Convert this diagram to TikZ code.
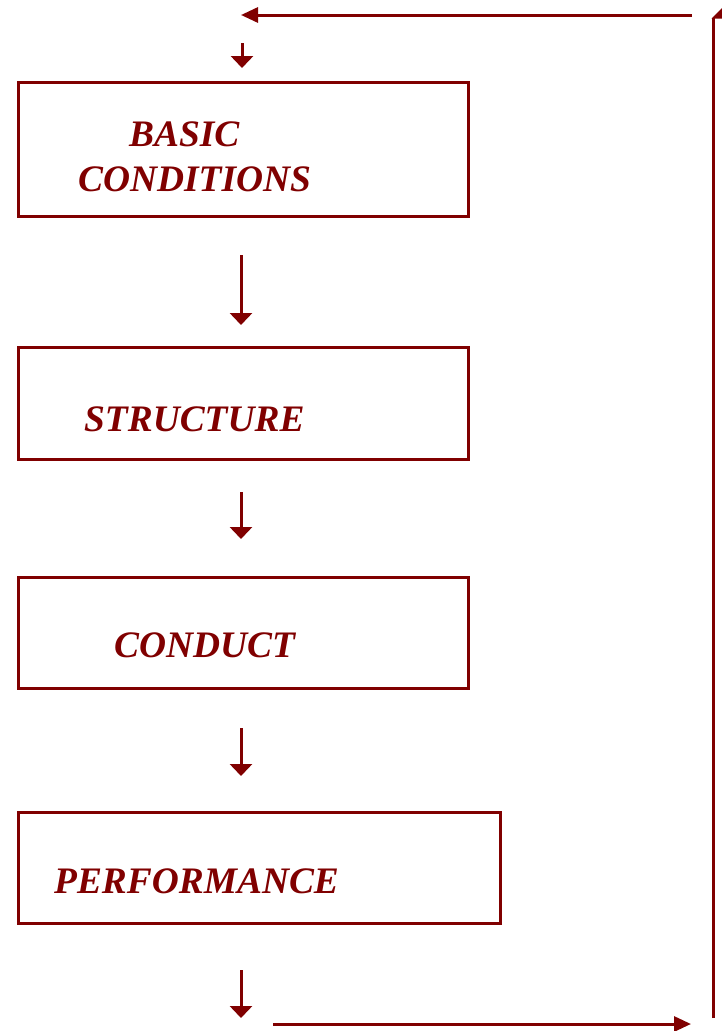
\documentclass[tikz,border=0pt]{standalone}
\usepackage{fontspec}
\setmainfont{Liberation Serif}
\usetikzlibrary{arrows.meta}
\definecolor{maroon}{RGB}{128,0,0}
\tikzset{
  boxstyle/.style={draw=maroon, line width=2.8pt, inner sep=0pt, anchor=north west},
  lbl/.style={text=maroon, font=\fontsize{37.4}{41}\selectfont\bfseries\itshape, inner sep=0pt, anchor=base west},
  varrow/.style={draw=maroon, line width=3pt, -{Triangle[length=12pt,width=22pt]}},
  harrow/.style={draw=maroon, line width=3pt, -{Triangle[length=17pt,width=15pt]}},
  plainline/.style={draw=maroon, line width=3pt}
}
\begin{document}
\begin{tikzpicture}[x=1pt,y=-1pt]
\useasboundingbox (0,0) rectangle (722,1031);
% boxes
\node[boxstyle, minimum width=450pt, minimum height=134pt] (b1) at (17,81) {};
\node[boxstyle, minimum width=450pt, minimum height=112pt] (b2) at (17,346) {};
\node[boxstyle, minimum width=450pt, minimum height=111pt] (b3) at (17,576) {};
\node[boxstyle, minimum width=482pt, minimum height=111pt] (b4) at (17,811) {};
% labels
\node[lbl] (t1a) at (129,146) {BASIC};
\node[lbl] (t1b) at (78,191) {CONDITIONS};
\node[lbl] (t2) at (84,431) {STRUCTURE};
\node[lbl] (t3) at (114,657) {CONDUCT};
\node[lbl] (t4) at (54,893) {PERFORMANCE};
% connector coordinates
\coordinate (a0s) at (242,43);  \coordinate (a0e) at (242,68);
\coordinate (a1s) at (241,255); \coordinate (a1e) at (241,325);
\coordinate (a2s) at (241,492); \coordinate (a2e) at (241,539);
\coordinate (a3s) at (241,728); \coordinate (a3e) at (241,776);
\coordinate (a4s) at (241,970); \coordinate (a4e) at (241,1018);
\coordinate (bl) at (273,1024); \coordinate (br) at (691,1024);
\coordinate (rb) at (713,1018); \coordinate (rt) at (713,18);
\coordinate (tr) at (692,15);   \coordinate (tl) at (241,15);
% arrows
\draw[varrow] (a0s) -- (a0e);
\draw[varrow] (a1s) -- (a1e);
\draw[varrow] (a2s) -- (a2e);
\draw[varrow] (a3s) -- (a3e);
\draw[varrow] (a4s) -- (a4e);
\draw[harrow] (bl) -- (br);
\draw[plainline] (rb) -- (rt);
\fill[maroon] (711.5,18.5) -- (722,18.5) -- (722,8) -- cycle;
\draw[harrow] (tr) -- (tl);
\end{tikzpicture}
\end{document}
